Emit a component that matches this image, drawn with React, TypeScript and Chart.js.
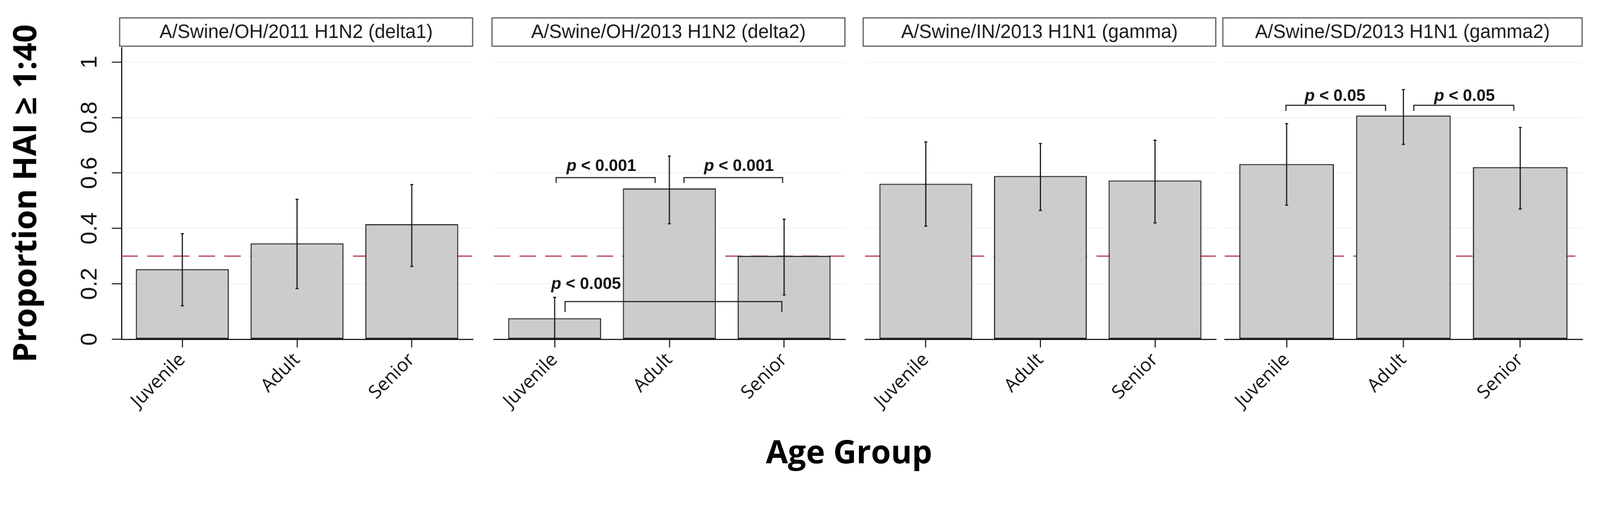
import React, { useEffect, useRef, useState } from 'react';
import { Chart, registerables } from 'chart.js';

Chart.register(...registerables);

// ---------------- data ----------------
const categories = ['Juvenile', 'Adult', 'Senior'];
const panelTitles = [
  'A/Swine/OH/2011 H1N2 (delta1)',
  'A/Swine/OH/2013 H1N2 (delta2)',
  'A/Swine/IN/2013 H1N1 (gamma)',
  'A/Swine/SD/2013 H1N1 (gamma2)',
];
const delta1Values = [0.253, 0.346, 0.415];
const delta1Lower = [0.121, 0.183, 0.263];
const delta1Upper = [0.381, 0.505, 0.558];
const delta2Values = [0.076, 0.544, 0.301];
const delta2Lower = [0, 0.417, 0.16];
const delta2Upper = [0.151, 0.661, 0.433];
const gammaValues = [0.561, 0.589, 0.573];
const gammaLower = [0.408, 0.465, 0.42];
const gammaUpper = [0.712, 0.706, 0.718];
const gamma2Values = [0.632, 0.807, 0.621];
const gamma2Lower = [0.484, 0.703, 0.47];
const gamma2Upper = [0.778, 0.901, 0.764];
const yTicks = [0, 0.2, 0.4, 0.6, 0.8, 1];
const thresholdValue = 0.3;
const yAxisTitle = 'Proportion HAI \u2265 1:40';
const xAxisTitle = 'Age Group';

// significance brackets (in data units of each panel)
const sigPanel = [1, 1, 1, 3, 3];
const sigFrom = [0.013, 1.127, 0.091, -0.006, 1.089];
const sigTo = [0.876, 1.987, 1.98, 0.847, 1.945];
const sigLevel = [0.583, 0.583, 0.136, 0.844, 0.844];
const sigDrop = [0.564, 0.564, 0.098, 0.824, 0.824];
const sigTextX = [0.407, 1.606, 0.274, 0.415, 1.523];
const sigTextY = [0.607, 0.607, 0.181, 0.86, 0.86];
const sigText = ['< 0.001', '< 0.001', '< 0.005', '< 0.05', '< 0.05'];

const panelValues = [delta1Values, delta2Values, gammaValues, gamma2Values];
const panelLower = [delta1Lower, delta2Lower, gammaLower, gamma2Lower];
const panelUpper = [delta1Upper, delta2Upper, gammaUpper, gamma2Upper];

// ---------------- layout ----------------
const W = 4293;
const H = 1299;
const AREA_TOP = 128;
const AREA_BOTTOM = 911;
const Y_MAX = 1.052;
const X_MIN = -0.53;
const X_MAX = 2.53;
const PANELS = [
  { areaLeft: 326, areaRight: 1268, canvasLeft: 0 },
  { areaLeft: 1325, areaRight: 2267, canvasLeft: 1315 },
  { areaLeft: 2321, areaRight: 3262, canvasLeft: 2311 },
  { areaLeft: 3286, areaRight: 4245, canvasLeft: 3276 },
];
const PAD_RIGHT = 15;

function Panel({ index }: { index: number }) {
  const ref = useRef<HTMLCanvasElement | null>(null);
  const p = PANELS[index];
  const showY = index === 0;
  const width = p.areaRight + PAD_RIGHT - p.canvasLeft;

  useEffect(() => {
    const canvas = ref.current;
    if (!canvas) return;
    const values = panelValues[index];
    const lower = panelLower[index];
    const upper = panelUpper[index];

    const stripPlugin = {
      id: 'strip',
      afterDraw(chart: any) {
        const { ctx, chartArea } = chart;
        const l = chartArea.left - 5;
        const r = chartArea.right;
        ctx.save();
        ctx.fillStyle = '#ffffff';
        ctx.fillRect(l, 48, r - l, 76);
        ctx.strokeStyle = '#555555';
        ctx.lineWidth = 3;
        ctx.strokeRect(l, 48, r - l, 76);
        ctx.fillStyle = '#1a1a1a';
        ctx.font = '51px "Liberation Sans"';
        ctx.textAlign = 'center';
        ctx.textBaseline = 'middle';
        ctx.fillText(panelTitles[index], (l + r) / 2, 88);
        ctx.restore();
      },
    };

    const thresholdPlugin = {
      id: 'threshold',
      beforeDatasetsDraw(chart: any) {
        const { ctx, chartArea, scales } = chart;
        const y = scales.y.getPixelForValue(thresholdValue);
        ctx.save();
        ctx.strokeStyle = '#b0303e';
        ctx.lineWidth = 3;
        ctx.setLineDash([44, 25]);
        ctx.beginPath();
        ctx.moveTo(chartArea.left, y);
        ctx.lineTo(chartArea.right, y);
        ctx.stroke();
        ctx.restore();
      },
    };

    const errorPlugin = {
      id: 'errors',
      afterDatasetsDraw(chart: any) {
        const { ctx, scales } = chart;
        ctx.save();
        ctx.strokeStyle = '#111111';
        ctx.lineWidth = 3;
        for (let i = 0; i < values.length; i++) {
          const x = scales.x.getPixelForValue(i);
          const yt = scales.y.getPixelForValue(upper[i]);
          const yb = scales.y.getPixelForValue(lower[i]);
          ctx.beginPath();
          ctx.moveTo(x, yt);
          ctx.lineTo(x, yb);
          ctx.moveTo(x - 4, yt);
          ctx.lineTo(x + 4, yt);
          ctx.moveTo(x - 4, yb);
          ctx.lineTo(x + 4, yb);
          ctx.stroke();
        }
        for (let k = 0; k < sigPanel.length; k++) {
          if (sigPanel[k] !== index) continue;
          const x1 = scales.x.getPixelForValue(sigFrom[k]);
          const x2 = scales.x.getPixelForValue(sigTo[k]);
          const yl = scales.y.getPixelForValue(sigLevel[k]);
          const yd = scales.y.getPixelForValue(sigDrop[k]);
          ctx.strokeStyle = '#222222';
          ctx.lineWidth = 3;
          ctx.beginPath();
          ctx.moveTo(x1, yd);
          ctx.lineTo(x1, yl);
          ctx.lineTo(x2, yl);
          ctx.lineTo(x2, yd);
          ctx.stroke();
          const tx = scales.x.getPixelForValue(sigTextX[k]);
          const ty = scales.y.getPixelForValue(sigTextY[k]);
          const pFont = 'italic bold 44px "Liberation Sans"';
          const rFont = 'bold 44px "Liberation Sans"';
          ctx.font = pFont;
          const wp = ctx.measureText('p').width;
          ctx.font = rFont;
          const rest = ' ' + sigText[k];
          const wr = ctx.measureText(rest).width;
          const start = tx - (wp + wr) / 2;
          ctx.fillStyle = '#111111';
          ctx.textAlign = 'left';
          ctx.textBaseline = 'alphabetic';
          ctx.font = pFont;
          ctx.fillText('p', start, ty);
          ctx.font = rFont;
          ctx.fillText(rest, start + wp, ty);
        }
        ctx.restore();
      },
    };

    const chart = new Chart(canvas, {
      type: 'bar',
      data: {
        datasets: [
          {
            data: values.map((v, i) => ({ x: i, y: v })),
            backgroundColor: '#cccccc',
            borderColor: '#262626',
            borderWidth: 3,
            borderSkipped: false,
            barPercentage: 0.81,
            categoryPercentage: 1,
          },
        ],
      },
      options: {
        responsive: false,
        animation: false,
        devicePixelRatio: 1,
        layout: {
          padding: {
            left: index === 0 ? 0 : p.areaLeft - p.canvasLeft,
            right: PAD_RIGHT,
            top: AREA_TOP,
            bottom: 0,
          },
        },
        plugins: {
          legend: { display: false },
          tooltip: { enabled: false },
        },
        scales: {
          x: {
            type: 'linear',
            min: X_MIN,
            max: X_MAX,
            offset: false,
            ticks: {
              stepSize: 1,
              includeBounds: false,
              autoSkip: false,
              minRotation: 45,
              maxRotation: 45,
              padding: 4,
              color: '#111111',
              font: { family: 'Open Sans', size: 50 },
              callback: (v: any) => categories[v] ?? '',
            },
            grid: {
              drawOnChartArea: false,
              drawTicks: true,
              tickLength: 22,
              tickColor: '#222222',
              tickWidth: 3,
              color: '#222222',
              lineWidth: 3,
              offset: false,
            },
            border: { display: true, color: '#111111', width: 3 },
            afterFit: (s: any) => {
              s.height = H - AREA_BOTTOM;
            },
          },
          y: {
            min: 0,
            max: Y_MAX,
            afterBuildTicks: (s: any) => {
              s.ticks = yTicks.map((v) => ({ value: v }));
            },
            ticks: {
              display: showY,
              autoSkip: false,
              minRotation: 90,
              maxRotation: 90,
              crossAlign: 'center',
              padding: 15,
              color: '#111111',
              font: { family: 'Liberation Sans', size: 62 },
              callback: (v: any) => String(Math.round(Number(v) * 10) / 10),
            },
            grid: {
              drawTicks: showY,
              tickLength: 26,
              tickColor: '#222222',
              tickWidth: 3,
              lineWidth: 2,
              color: (c: any) => (c.tick && c.tick.value === 0 ? 'rgba(0,0,0,0)' : '#f0f0f0'),
            },
            border: { display: showY, color: '#111111', width: 3 },
            title: {
              display: showY,
              text: yAxisTitle,
              color: '#000000',
              font: { family: 'Open Sans', size: 86, weight: 'bold' },
              padding: { top: 21, bottom: 0 },
            },
            afterFit: (s: any) => {
              s.width = showY ? p.areaLeft - p.canvasLeft : 0;
            },
          },
        },
      } as any,
      plugins: [thresholdPlugin, errorPlugin, stripPlugin],
    });
    return () => chart.destroy();
  }, [index]);

  return (
    <canvas
      ref={ref}
      width={width}
      height={H}
      style={{ position: 'absolute', left: p.canvasLeft, top: 0, width, height: H }}
    />
  );
}

export default function App() {
  const [scale] = useState(() => {
    const s = Math.min(window.innerWidth / W, window.innerHeight / H);
    return s > 0 && isFinite(s) ? Math.min(s, 1) : 1;
  });
  return (
    <div
      style={{
        position: 'fixed',
        left: 0,
        top: 0,
        width: W,
        height: H,
        background: '#ffffff',
        overflow: 'hidden',
        transform: `scale(${scale})`,
        transformOrigin: '0 0',
      }}
    >
      {PANELS.map((_, i) => (
        <Panel key={i} index={i} />
      ))}
      <div
        style={{
          position: 'absolute',
          left: 2278 - 1000,
          width: 2000,
          top: 1168,
          textAlign: 'center',
          fontFamily: '"Open Sans"',
          fontWeight: 700,
          fontSize: 86,
          lineHeight: '86px',
          color: '#000000',
          whiteSpace: 'nowrap',
        }}
      >
        {xAxisTitle}
      </div>
    </div>
  );
}
